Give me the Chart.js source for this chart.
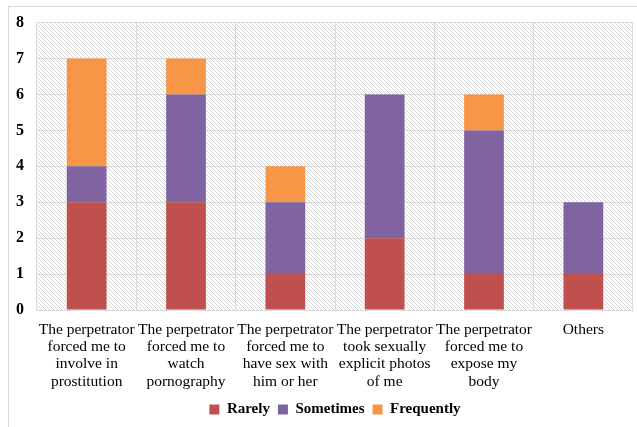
<!DOCTYPE html>
<html>
<head>
<meta charset="utf-8">
<script src="https://cdn.jsdelivr.net/npm/chart.js@4/dist/chart.umd.min.js"></script>
<style>
  html, body { margin: 0; padding: 0; background: #fff; overflow: hidden; }
  #frame { position: absolute; left: 8px; top: 6px; width: 700px; height: 500px; border: 1px solid #d9d9d9; }
  #chart { position: absolute; left: 0; top: 0; }
</style>
</head>
<body>
<div id="frame"></div>
<canvas id="chart" width="637" height="427"></canvas>
<script>
const categories = [
  ["The perpetrator", "forced me to", "involve in", "prostitution"],
  ["The perpetrator", "forced me to", "watch", "pornography"],
  ["The perpetrator", "forced me to", "have sex with", "him or her"],
  ["The perpetrator", "took sexually", "explicit photos", "of me"],
  ["The perpetrator", "forced me to", "expose my", "body"],
  ["Others"]
];
const rarely = [3, 3, 1, 2, 1, 1];
const sometimes = [1, 3, 2, 4, 4, 2];
const frequently = [3, 1, 1, 0, 1, 0];
const seriesNames = ["Rarely", "Sometimes", "Frequently"];

// Fine diagonal hatching used as the plot-area fill
function makeHatch() {
  const c = document.createElement('canvas');
  c.width = 4; c.height = 4;
  const ctx = c.getContext('2d');
  const img = ctx.createImageData(4, 4);
  for (let y = 0; y < 4; y++) {
    for (let x = 0; x < 4; x++) {
      const i = (y * 4 + x) * 4;
      const v = x === y ? 214 : 255;
      img.data[i] = v; img.data[i + 1] = v; img.data[i + 2] = v; img.data[i + 3] = 255;
    }
  }
  ctx.putImageData(img, 0, 0);
  return c;
}

const hatchPlugin = {
  id: 'hatchBackground',
  beforeDraw(chart) {
    const { ctx, chartArea: a } = chart;
    ctx.save();
    ctx.fillStyle = ctx.createPattern(makeHatch(), 'repeat');
    ctx.fillRect(a.left, a.top, a.right - a.left, a.bottom - a.top);
    ctx.restore();
  }
};

const serif = "'Liberation Serif', 'Times New Roman', serif";

new Chart(document.getElementById('chart'), {
  type: 'bar',
  data: {
    labels: categories,
    datasets: [
      { label: seriesNames[0], data: rarely, backgroundColor: '#C0504D' },
      { label: seriesNames[1], data: sometimes, backgroundColor: '#8064A2' },
      { label: seriesNames[2], data: frequently, backgroundColor: '#F79646' }
    ]
  },
  options: {
    responsive: false,
    animation: false,
    layout: { padding: { left: 8, right: 4, top: 14, bottom: 0 } },
    datasets: { bar: { categoryPercentage: 1, barPercentage: 0.4, borderWidth: 0 } },
    scales: {
      x: {
        stacked: true,
        afterFit(scale) { scale.height = 84; },
        grid: { color: '#d9d9d9', drawTicks: false, offset: true },
        border: { color: '#d9d9d9' },
        ticks: {
          color: '#000', maxRotation: 0, autoSkip: false, padding: 11,
          font: { family: serif, size: 15.5, lineHeight: '17.3px' }
        }
      },
      y: {
        stacked: true,
        min: 0, max: 8,
        afterFit(scale) { scale.width = 29; },
        grid: { color: '#d9d9d9', drawTicks: false },
        border: { display: false },
        ticks: {
          stepSize: 1, color: '#000', padding: 13,
          font: { family: serif, size: 16, weight: 'bold' }
        }
      }
    },
    plugins: {
      legend: {
        position: 'bottom',
        fullSize: false,
        labels: {
          boxWidth: 10, boxHeight: 10, padding: 8, color: '#000',
          font: { family: serif, size: 15, weight: 'bold' }
        }
      },
      tooltip: { enabled: false }
    }
  },
  plugins: [hatchPlugin]
});
</script>
</body>
</html>
